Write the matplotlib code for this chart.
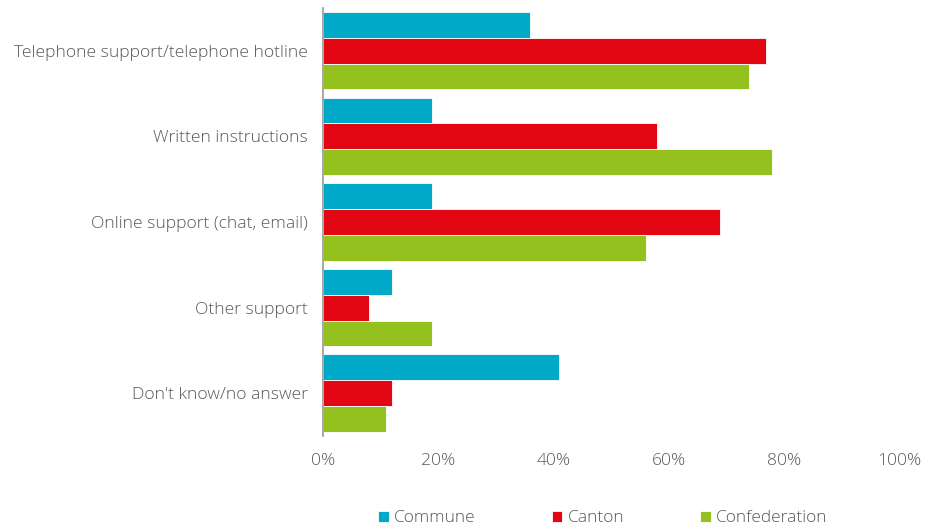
import numpy as np
import matplotlib.pyplot as plt
from matplotlib.ticker import PercentFormatter

plt.rcParams['font.family'] = ['Open Sans', 'DejaVu Sans']
plt.rcParams['font.weight'] = 'light'

categories = ["Telephone support/telephone hotline", "Written instructions",
              "Online support (chat, email)", "Other support",
              "Don't know/no answer"]
series = ["Commune", "Canton", "Confederation"]
commune = [36, 19, 19, 12, 41]
canton = [77, 58, 69, 8, 12]
confederation = [74, 78, 56, 19, 11]
colors = ["#00A9C7", "#E30613", "#95C11F"]

text_color = "#595959"

fig = plt.figure(figsize=(9.26, 5.26), dpi=100)
ax = fig.add_axes([0.3488, 0.171, 0.622, 0.814])

y = np.arange(len(categories))
h = 0.302
for k, (name, vals, c) in enumerate(zip(series, [commune, canton, confederation], colors)):
    ax.barh(y + (k - 1) * h, vals, height=h, color=c, label=name,
            edgecolor="white", linewidth=0.6)

ax.set_ylim(len(categories) - 0.5, -0.5)
ax.set_xlim(0, 100)
ax.set_xticks(np.arange(0, 101, 20))
ax.xaxis.set_major_formatter(PercentFormatter(decimals=0))
ax.set_yticks(y)
ax.set_yticklabels(categories)
ax.tick_params(axis="both", length=0, labelsize=12.6, colors=text_color)
ax.tick_params(axis="y", pad=11)
ax.tick_params(axis="x", pad=12)

for s in ["top", "right", "bottom"]:
    ax.spines[s].set_visible(False)
ax.spines["left"].set_color("#999999")
ax.spines["left"].set_linewidth(1.2)

leg = fig.legend(loc="lower center", bbox_to_anchor=(0.651, -0.03), ncol=3,
                 frameon=False, fontsize=12.5, handlelength=0.6,
                 handleheight=0.6, handletextpad=0.3, columnspacing=4.4)
for t in leg.get_texts():
    t.set_color(text_color)

fig.savefig("out.png", dpi=100)
